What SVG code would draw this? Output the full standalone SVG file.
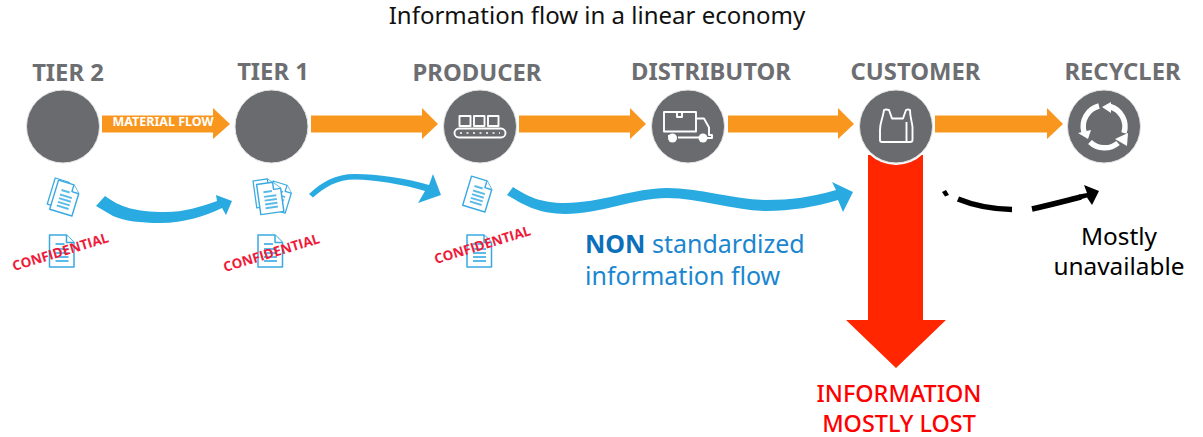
<svg xmlns="http://www.w3.org/2000/svg" width="1203" height="437" viewBox="0 0 1203 437">
<style>
.lbl{font-family:"Noto Sans","Open Sans",sans-serif;font-weight:700;font-size:23.8px;fill:#6d6e71;text-anchor:middle}
.c{fill:#6a6b6f;stroke:#e4e4e4;stroke-width:1}
.o{fill:#f9961e}
.b{fill:#29abe2}
.ic{fill:none;stroke:#fff;stroke-width:1.9;stroke-linejoin:round}
.doc{fill:#fff;stroke:#3aa9e2;stroke-width:1.5;stroke-linejoin:round}
.ln{fill:none;stroke:#5bbbe8;stroke-width:2}
.conf{font-family:"Open Sans","Noto Sans",sans-serif;font-weight:700;font-size:13.5px;fill:#ee1c3a}
.t{font-family:"Noto Sans","Open Sans",sans-serif;font-size:24.4px;fill:#000}
.r{font-family:"Noto Sans","Open Sans",sans-serif;font-size:23.4px;font-weight:500;fill:#f00;text-anchor:middle}
.s{font-family:"Noto Sans","Open Sans",sans-serif;font-size:25px;fill:#1b86d0}
</style>
<defs>
<g id="page">
<path class="doc" d="M-12-16H5L12.500-8.500V16H-12Z"/><path class="doc" d="M5-16V-8.500H12.500"/>
<path class="ln" d="M-6-7H3M-6-2H7M-6 2H7M-6 6H7M-6 10H7"/>
</g>
</defs>
<text x="597" y="24" text-anchor="middle" font-family="'Noto Sans','Open Sans',sans-serif" font-size="24" fill="#111">Information flow in a linear economy</text>

<g id="connectors">
<path class="o" d="M102 115.500H213V108L230 124L213 139V132.500H102Z"/>
<path class="o" d="M311 115.500H422V108L438 124L422 139V132.500H311Z"/>
<path class="o" d="M519 115.500H630V108L646 124L630 139V132.500H519Z"/>
<path class="o" d="M728 115.500H838V108L854 124L838 139V132.500H728Z"/>
<path class="o" d="M935 115.500H1047V108L1063 124L1047 139V132.500H935Z"/>
<text x="163" y="126" text-anchor="middle" font-family="'Noto Sans','Open Sans',sans-serif" font-weight="700" font-size="12.500" fill="#fff">MATERIAL FLOW</text>
<path id="red-arrow" fill="#ff2600" d="M868 155H923V320H946L896 368L846 320H868Z"/>
<path class="b" d="M105 196C120 207 135 212 165 212C185 212 200 207 217 201L216 195L232 201L226 215L222 208C205 216 185 223 160 223C140 223 125 221 113 216L96 206Z"/>
<path class="b" d="M309 194C322 182 335 174 355 174C378 174 405 178 429 185L433 174L441 195L418 203L425 191C402 184 375 180 355 179.500C337 179.500 325 187 313 197.500Z"/>
<path class="b" d="M513 187C527 196 540 203 565 203C600 203 635 188 667 188C700 188 735 200 767 200C790 200 812 197 836 190L832 182L853 192L843 212L838 200C815 207 790 211 767 211C735 211 700 198 667 198C635 198 600 214 565 214C540 214 525 206 507 195Z"/>
<path fill="#000" d="M942 192L946 190L949 195L945 196.500Z"/>
<path fill="none" stroke="#000" stroke-width="5.500" d="M958 199C975 206 990 209 1012 209.500"/>
<path fill="none" stroke="#000" stroke-width="5.500" d="M1032 209C1050 205 1065 201 1081 197"/>
<path fill="#000" d="M1084 185L1099 191L1092 205L1087 197.500L1080 199.500L1079 194.500L1087 193Z"/>
</g>

<g id="tier2"><text class="lbl" x="68" y="81">TIER 2</text><circle class="c" cx="63" cy="126.500" r="36.500"/></g>
<g id="tier1"><text class="lbl" x="273" y="80">TIER 1</text><circle class="c" cx="271.500" cy="126.500" r="36.500"/></g>
<g id="producer"><text class="lbl" x="477" y="81">PRODUCER</text><circle class="c" cx="480" cy="126.500" r="36.500"/>
<path class="ic" d="M459.500 116h11v10h-11zM474 116h10.500v10h-10.500zM488 116h10.500v10h-10.500z"/>
<rect class="ic" x="454.500" y="128.500" width="51" height="9" rx="4.500"/>
<path d="M460 133h40" stroke="#fff" stroke-width="1.500" stroke-dasharray="2 4.500" fill="none"/>
</g>
<g id="distributor"><text class="lbl" x="711" y="80">DISTRIBUTOR</text><circle class="c" cx="688" cy="126.500" r="36.500"/>
<path class="ic" d="M664 112h32v19.500h-32zM677 112v5h5v-5"/>
<path class="ic" d="M697 118.500h7l5 9v7.500h3v3h-5M672 136h-4M678 137.500h21"/>
<circle cx="672.500" cy="138" r="4.500" fill="#fff"/><circle cx="703" cy="138" r="4.500" fill="#fff"/>
</g>
<g id="customer"><text class="lbl" x="915.500" y="80">CUSTOMER</text>
<circle cx="896" cy="126.500" r="38.500" fill="#fff"/><circle class="c" cx="896" cy="126.500" r="36.500"/>
<path class="ic" d="M884 110Q886 109 889 110L892 118.500H903L906 110Q908 109 910 110C910 117 912 122 912.500 127V140Q912.500 142 910 142H882Q880 142 880 140V130C880 122 883 118 884 110ZM906.500 122V142"/>
</g>
<g id="recycler"><text class="lbl" x="1122.500" y="80">RECYCLER</text><circle class="c" cx="1104" cy="126.500" r="36.500"/>
<g fill="none" stroke="#fff" stroke-width="5.500">
<path d="M1110 106.500A21 21 0 0 1 1124 133"/>
<path d="M1118 143A21 21 0 0 1 1090 142"/>
<path d="M1084 132A21 21 0 0 1 1099 106"/>
</g>
<g fill="#fff"><path d="M1102 107L1111 102V113Z"/><path d="M1115 139L1128 133L1127 146Z"/><path d="M1078 133L1091 130L1088 139Z"/></g>
</g>

<g id="doc-tier2">
<use href="#page" transform="translate(61 194) rotate(17) scale(.85)"/>
<use href="#page" transform="translate(65 198) rotate(17) scale(.95)"/>
<use href="#page" transform="translate(61.500 251)"/>
<text class="conf" transform="translate(14 271) rotate(-17)">CONFIDENTIAL</text>
</g>
<g id="doc-tier1">
<use href="#page" transform="translate(265 193) rotate(-8) scale(.85)"/>
<use href="#page" transform="translate(279 197) rotate(17) scale(.85)"/>
<use href="#page" transform="translate(270 198) rotate(-8) scale(.95)"/>
<use href="#page" transform="translate(270 251)"/>
<text class="conf" transform="translate(225 272) rotate(-17)">CONFIDENTIAL</text>
</g>
<g id="doc-producer">
<use href="#page" transform="translate(478 194) rotate(17) scale(.95)"/>
<use href="#page" transform="translate(479 251)"/>
<text class="conf" transform="translate(436 264) rotate(-17)">CONFIDENTIAL</text>
</g>

<text class="s" x="585" y="253"><tspan font-weight="700" fill="#0b6fba">NON</tspan> standardized</text>
<text class="s" x="585" y="285">information flow</text>
<text class="t" x="1119" y="245" text-anchor="middle">Mostly</text>
<text class="t" x="1119" y="275" text-anchor="middle">unavailable</text>
<text class="r" x="899" y="402">INFORMATION</text>
<text class="r" x="899" y="432">MOSTLY LOST</text>
</svg>
